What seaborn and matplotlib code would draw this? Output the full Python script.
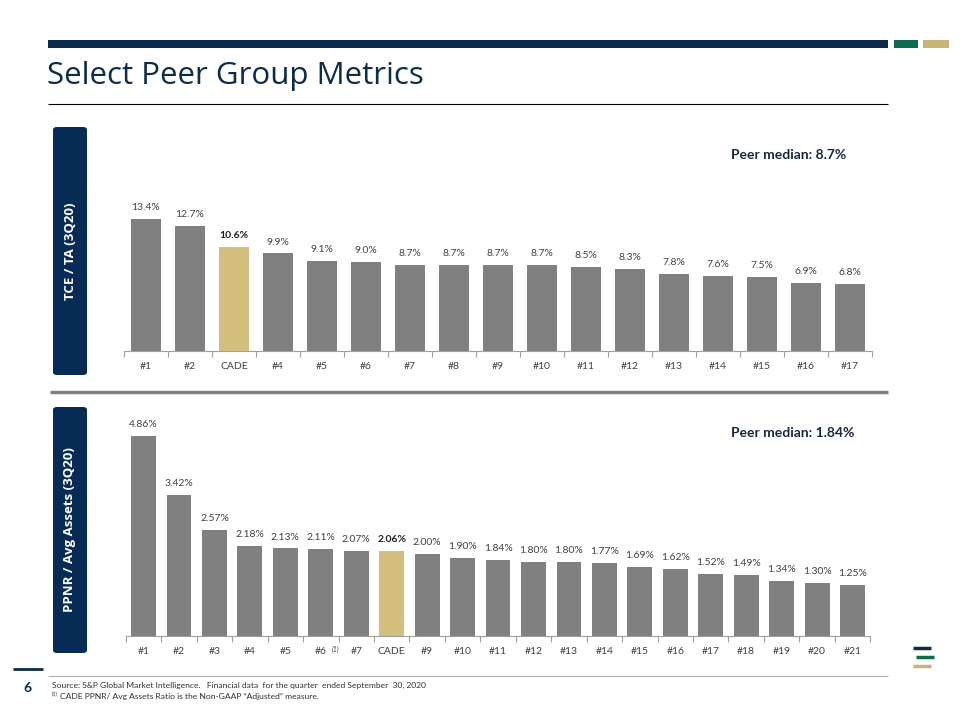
import matplotlib
matplotlib.use("Agg")
import matplotlib.pyplot as plt
import seaborn as sns
import pandas as pd
from matplotlib.patches import FancyBboxPatch, Rectangle
from matplotlib.lines import Line2D

# ---- data ----
top_cats = ['#1', '#2', 'CADE', '#4', '#5', '#6', '#7', '#8', '#9', '#10',
            '#11', '#12', '#13', '#14', '#15', '#16', '#17']
top_vals = [13.4, 12.7, 10.6, 9.9, 9.1, 9.0, 8.7, 8.7, 8.7, 8.7,
            8.5, 8.3, 7.8, 7.6, 7.5, 6.9, 6.8]
top_labels = ['13.4%', '12.7%', '10.6%', '9.9%', '9.1%', '9.0%', '8.7%', '8.7%', '8.7%', '8.7%',
              '8.5%', '8.3%', '7.8%', '7.6%', '7.5%', '6.9%', '6.8%']

bot_cats = ['#1', '#2', '#3', '#4', '#5', '#6', '#7', 'CADE', '#9', '#10',
            '#11', '#12', '#13', '#14', '#15', '#16', '#17', '#18', '#19', '#20', '#21']
bot_vals = [4.86, 3.42, 2.57, 2.18, 2.13, 2.11, 2.07, 2.06, 2.00, 1.90,
            1.84, 1.80, 1.80, 1.77, 1.69, 1.62, 1.52, 1.49, 1.34, 1.30, 1.25]
bot_labels = ['4.86%', '3.42%', '2.57%', '2.18%', '2.13%', '2.11%', '2.07%', '2.06%', '2.00%', '1.90%',
              '1.84%', '1.80%', '1.80%', '1.77%', '1.69%', '1.62%', '1.52%', '1.49%', '1.34%', '1.30%', '1.25%']

top_title = 'TCE / TA (3Q20)'
bot_title = 'PPNR / Avg Assets (3Q20)'
top_median = 'Peer median: 8.7%'
bot_median = 'Peer median: 1.84%'

NAVY = '#0B2C4B'
BOXNAVY = '#062B55'
GREEN = '#0E6B4F'
GOLD = '#C9B477'
CADE_GOLD = '#D3BE7E'
GRAY = '#808080'
TXT = '#404040'

sns.set_theme(style='white')
plt.rcParams['font.family'] = ['Lato', 'DejaVu Sans']

W, H = 960, 720
fig = plt.figure(figsize=(9.6, 7.2), dpi=100)


def fx(x):
    return x / W


def fy(y):
    return 1 - y / H


def hline(x0, x1, y, color, lw):
    fig.add_artist(Line2D([fx(x0), fx(x1)], [fy(y), fy(y)], color=color, lw=lw,
                          transform=fig.transFigure, solid_capstyle='butt'))


def rect(x0, y0, x1, y1, color):
    fig.add_artist(Rectangle((fx(x0), fy(y1)), fx(x1) - fx(x0), fy(y0) - fy(y1),
                             color=color, transform=fig.transFigure, lw=0))


# header
rect(48, 40, 888, 48, NAVY)
rect(894, 40, 918, 48, GREEN)
rect(923, 40, 949, 48, GOLD)
fig.text(fx(47), fy(76), 'Select Peer Group Metrics', fontsize=22.5, color=NAVY,
         family=['Open Sans', 'DejaVu Sans'], va='center', ha='left')
hline(48, 888, 103.5, '#000000', 0.8)

# separator
hline(50, 888, 392, GRAY, 2.5)

# side boxes
for (y0, y1, txt) in [(127, 375, top_title), (407, 653, bot_title)]:
    fig.add_artist(FancyBboxPatch((fx(53), fy(y1)), fx(87) - fx(53), fy(y0) - fy(y1),
                                  boxstyle='round,pad=0,rounding_size=0.004',
                                  color=BOXNAVY, transform=fig.transFigure, lw=0))
    fig.text(fx(70), fy((y0 + y1) / 2), txt, rotation=90, color='white', fontsize=9.5,
             fontweight='bold', ha='center', va='center', family=['Open Sans', 'DejaVu Sans'])


def panel(cats, vals, labels, left, right, bottom, top_px, ymax, median, med_y):
    ax = fig.add_axes([fx(left), fy(bottom), fx(right) - fx(left), fy(top_px) - fy(bottom)])
    df = pd.DataFrame({'cat': cats, 'val': vals})
    pal = [CADE_GOLD if c == 'CADE' else GRAY for c in cats]
    sns.barplot(data=df, x='cat', y='val', hue='cat', palette=pal, order=cats,
                hue_order=cats, legend=False, width=0.7, ax=ax, saturation=1, linewidth=0)
    n = len(cats)
    ax.set_xlim(-0.5, n - 0.5)
    ax.set_ylim(0, ymax)
    ax.set_xlabel('')
    ax.set_ylabel('')
    ax.set_yticks([])
    for s in ['top', 'left', 'right']:
        ax.spines[s].set_visible(False)
    ax.spines['bottom'].set_color('#A0A0A0')
    ax.spines['bottom'].set_linewidth(0.8)
    ax.set_xticks(range(n))
    ax.set_xticklabels(cats, fontsize=7.5, color=TXT)
    ax.tick_params(axis='x', which='major', length=0, pad=8)
    ax.set_xticks([i - 0.5 for i in range(n + 1)], minor=True)
    ax.tick_params(axis='x', which='minor', length=4, width=0.8, color='#A0A0A0', direction='out',
                   bottom=True)
    ax.set_facecolor('none')
    for i, (v, lab, c) in enumerate(zip(vals, labels, cats)):
        ax.annotate(lab, (i, v), xytext=(0, 5), textcoords='offset points', ha='center',
                    va='bottom', fontsize=7.5, color='#202020' if c == 'CADE' else TXT,
                    fontweight='bold' if c == 'CADE' else 'normal')
    fig.text(fx(731), fy(med_y), median, fontsize=10, fontweight='bold', color='#17283F',
             ha='left', va='center')
    return ax


ax1 = panel(top_cats, top_vals, top_labels, 124, 872, 351, 180, (351 - 180) / 9.85,
            top_median, 155)
ax2 = panel(bot_cats, bot_vals, bot_labels, 125.8, 870.3, 636, 415, (636 - 415) / 41.1,
            bot_median, 433)
# footnote marker on #6 tick
i6 = bot_cats.index('#6')
ax2.annotate('(1)', (i6, 0), xycoords='data', xytext=(8, -9.5), textcoords='offset points',
             fontsize=5, style='italic', color=TXT, ha='left', va='center')

# footer
hline(13, 43, 669, NAVY, 2)
fig.text(fx(27), fy(688), '6', fontsize=10, fontweight='bold', color=NAVY, ha='center', va='center')
hline(48, 888, 675.5, '#B0B0B0', 0.8)
fig.text(fx(52), fy(685), 'Source: S&P Global Market Intelligence.   Financial data  for the quarter  ended September  30, 2020',
         fontsize=6.1, color='#303030', ha='left', va='center')
fig.text(fx(52), fy(694), '(1)', fontsize=4, color='#303030', ha='left', va='center')
fig.text(fx(60), fy(697), 'CADE PPNR/ Avg Assets Ratio is the Non-GAAP \u201cAdjusted\u201d measure.',
         fontsize=6.1, color='#303030', ha='left', va='center')

# logo
hline(913, 931, 648, NAVY, 2.5)
hline(916, 934, 657, GREEN, 2.5)
hline(913, 931, 666, GOLD, 2.5)

fig.savefig('out.png', dpi=100)
